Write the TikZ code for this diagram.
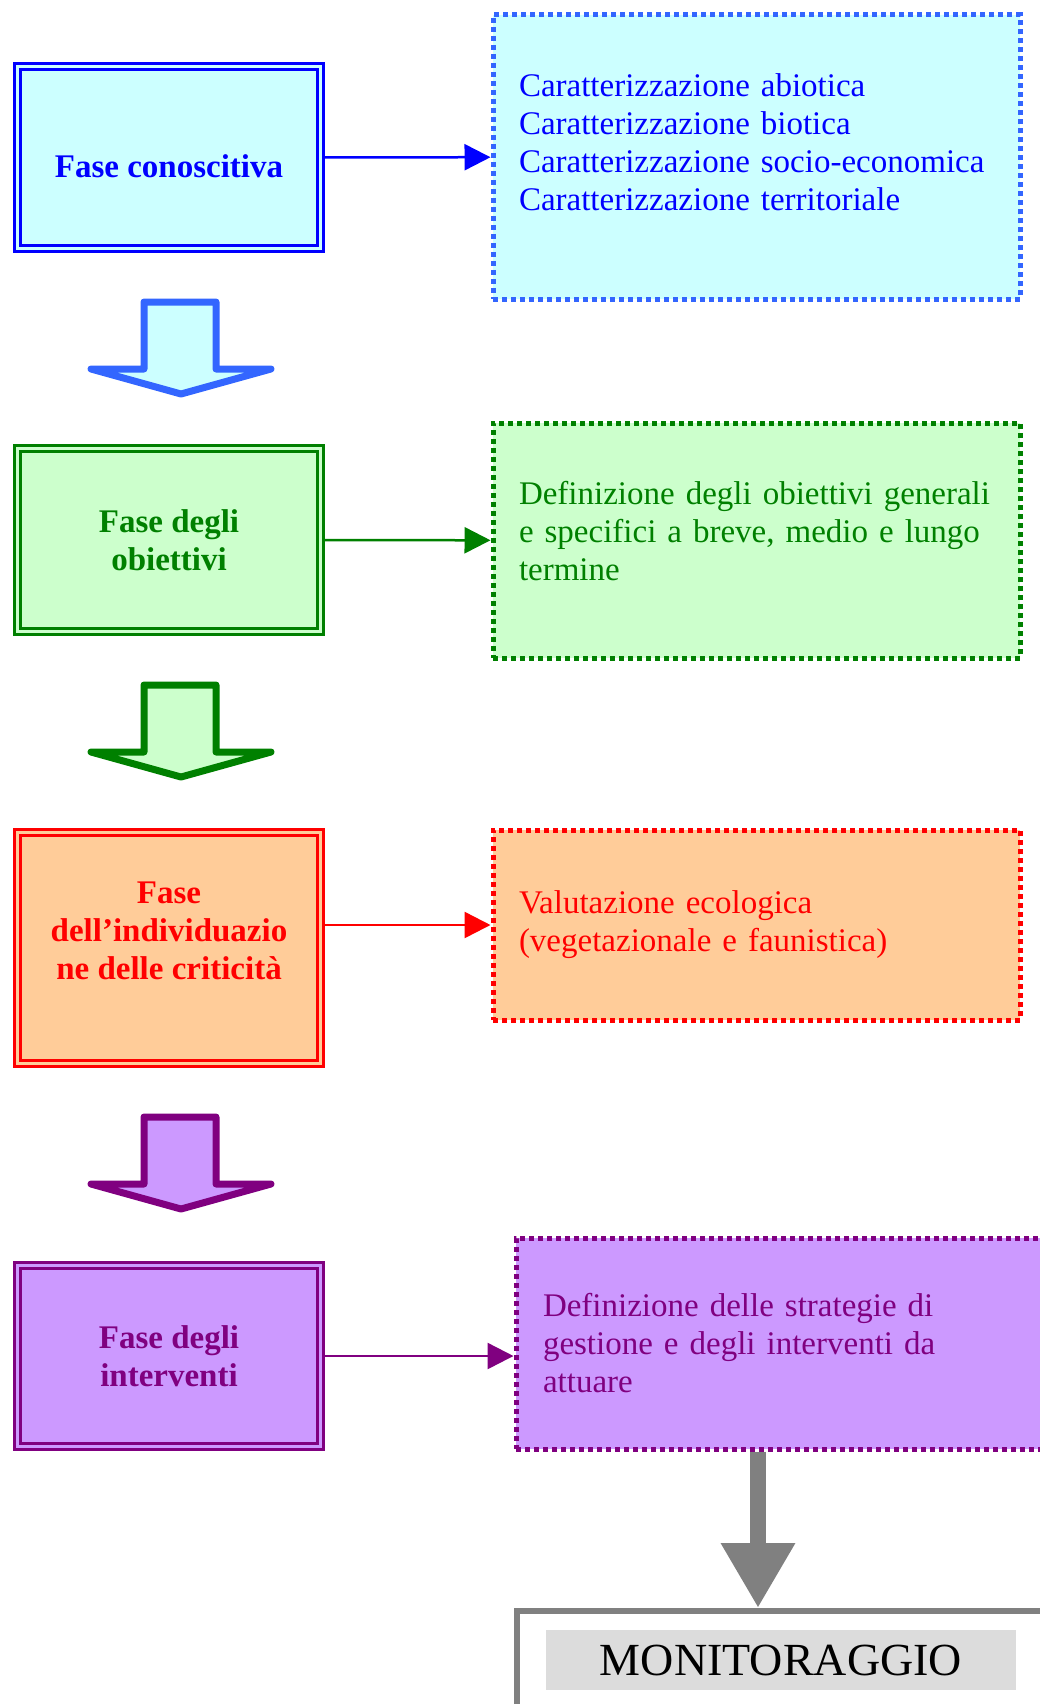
\documentclass[tikz,border=0pt]{standalone}
\usepackage{fontspec}
\setmainfont{Liberation Serif}
\usetikzlibrary{arrows.meta}

\definecolor{cyanfill}{HTML}{CCFFFF}
\definecolor{greenfill}{HTML}{CCFFCC}
\definecolor{orangefill}{HTML}{FFCC99}
\definecolor{purplefill}{HTML}{CC99FF}
\definecolor{blueline}{HTML}{0000FF}
\definecolor{bluedot}{HTML}{3366FF}
\definecolor{greenline}{HTML}{008000}
\definecolor{redline}{HTML}{FF0000}
\definecolor{purpleline}{HTML}{800080}
\definecolor{grayline}{HTML}{808080}
\definecolor{grayfill}{HTML}{DCDCDC}

\begin{document}
\begin{tikzpicture}[x=1pt, y=-1pt, >={Triangle[length=26pt,width=26pt]}]
	\tikzstyle{phase} = [draw, double, double distance=3pt, line width=3pt, minimum width=303pt, align=center, font=\fontsize{33}{38}\selectfont\bfseries]
	\tikzstyle{detail} = [draw, line width=5pt, dash pattern=on 5pt off 4pt, text width=475pt, inner xsep=26pt, align=left, font=\fontsize{33}{38}\selectfont]
	\tikzstyle{conn} = [->, line width=2.5pt]

	\useasboundingbox (0,0) rectangle (1039,1704);

	% phases on the left
	\node [phase, draw=blueline, fill=cyanfill, double=cyanfill, text=blueline, minimum height=182pt] (ph1) at (169,157.5) {\rule{0pt}{40pt}Fase conoscitiva};
	\node [phase, draw=greenline, fill=greenfill, double=greenfill, text=greenline, minimum height=183pt] (ph2) at (169,540) {Fase degli\\obiettivi};
	\node [phase, draw=redline, fill=orangefill, double=orangefill, text=redline, minimum height=231pt] (ph3) at (169,948) {Fase\\dell’individuazio\\ ne delle criticità\rule[-34pt]{0pt}{0pt}};
	\node [phase, draw=purpleline, fill=purplefill, double=purplefill, text=purpleline, minimum height=181pt] (ph4) at (169,1356) {Fase degli\\interventi};

	% details on the right
	\node [detail, draw=bluedot, fill=cyanfill, text=blueline, minimum height=284pt] (det1) at (756.5,157) {%
	  Caratterizzazione abiotica\\
	  Caratterizzazione biotica\\
	  Caratterizzazione socio-economica\\
	  Caratterizzazione territoriale\rule[-30pt]{0pt}{0pt}};
	\node [detail, draw=greenline, fill=greenfill, text=greenline, minimum height=235pt] (det2) at (756.5,540.5) {%
	  Definizione degli obiettivi generali\\
	  e specifici a breve, medio e lungo\\
	  termine\rule[-20pt]{0pt}{0pt}};
	\node [detail, draw=redline, fill=orangefill, text=redline, minimum height=190pt] (det3) at (756.5,925) {%
	  Valutazione ecologica\\
	  (vegetazionale e faunistica)};
	\node [detail, draw=purpleline, fill=purplefill, text=purpleline, minimum width=529pt, minimum height=211pt] (det4) at (780.5,1343.5) {%
	  Definizione delle strategie di\\
	  gestione e degli interventi da\\
	  attuare};

	% monitoring
	\node [draw=grayline, line width=6pt, minimum width=543pt, minimum height=140pt] (frame) at (788.5,1681) {};
	\node [fill=grayfill, minimum width=470pt, minimum height=60pt, inner sep=0pt, font=\fontsize{46}{50}\selectfont] (mon) at (781,1660) {MONITORAGGIO};

	\draw [conn, blueline] (ph1) -- (det1);
	\draw [conn, greenline] (ph2) -- (det2);
	\draw [conn, redline] (ph3.east |- det3.west) -- (det3.west);
	\draw [conn, purpleline] (ph4.east) -- (ph4.east -| det4.west);

	% block arrows between phases
	\foreach \t/\ln/\fl in {299/bluedot/cyanfill, 682/greenline/greenfill, 1114/purpleline/purplefill}
	  \draw [draw=\ln, fill=\fl, line width=7pt, line join=round]
	    (144,\t+3) -- (216,\t+3) -- (216,\t+70) -- (271,\t+70) -- (181,\t+95)
	    -- (91,\t+70) -- (144,\t+70) -- cycle;

	\coordinate (gtop) at ([xshift=-22.5pt]det4.south);
	\draw [grayline, line width=16pt, -{Triangle[length=65pt,width=70pt]}] (gtop) -- (gtop |- frame.north);
\end{tikzpicture}
\end{document}
